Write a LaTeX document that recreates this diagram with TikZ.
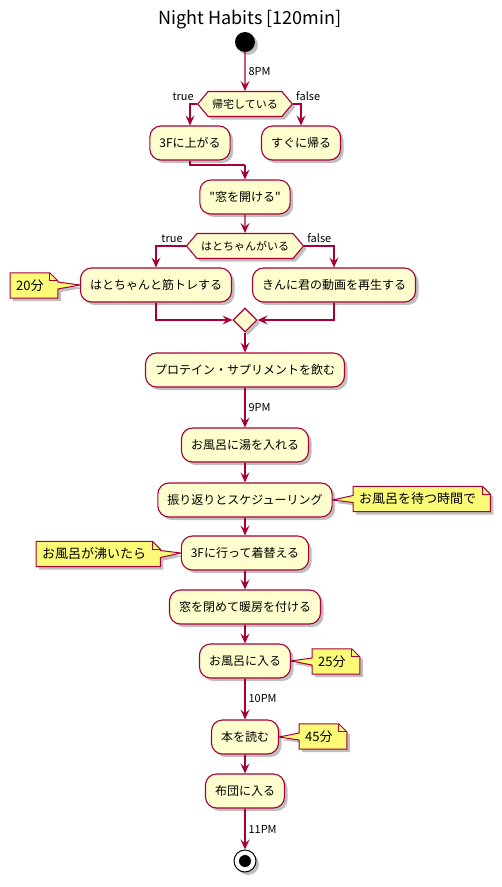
\documentclass[tikz,border=0pt]{standalone}
\usepackage{fontspec}
\setmainfont{Noto Sans CJK JP}[Ligatures=TeXOff]
\usetikzlibrary{arrows.meta,shapes.geometric,shapes.symbols,shadows,backgrounds}
\definecolor{umlred}{HTML}{A80036}
\definecolor{umlbox}{HTML}{FEFECE}
\definecolor{umlnote}{HTML}{FBFB77}
\tikzset{
  umlshadow/.style={drop shadow={opacity=0.25,fill=black,shadow xshift=3pt,shadow yshift=-3pt}},
  act/.style={draw=umlred, fill=umlbox, line width=1.1pt, rounded corners=11pt,
    minimum height=34pt, inner xsep=9.5pt, font=\fontsize{12}{14}\selectfont, umlshadow},
  cond/.style={signal, signal to=east and west, signal pointer angle=100, draw=umlred,
    fill=umlbox, line width=1.1pt, minimum height=25pt, inner xsep=4pt,
    font=\fontsize{11}{13}\selectfont, umlshadow},
  merge/.style={diamond, draw=umlred, fill=umlbox, line width=1.1pt, minimum size=24pt,
    inner sep=0pt, umlshadow},
  note/.style={anchor=west, minimum height=25pt, inner xsep=6pt, font=\fontsize{13}{15}\selectfont},
  notebg/.style={draw=umlred, fill=umlnote, line width=1pt, umlshadow},
  wire/.style={draw=umlred, line width=1.1pt},
  flow/.style={wire, -{Stealth[length=10pt,width=9pt,inset=4pt]}},
  lbl/.style={font=\fontsize{11}{13}\selectfont, inner sep=3pt},
}

\begin{document}
\begin{tikzpicture}[x=1pt,y=-1pt]
    \useasboundingbox (0,0) rectangle (502,887);
    \node[font=\fontsize{18}{20}\selectfont] (title) at (250,20) {Night Habits [120min]};
    \node[circle, fill=black, minimum size=20pt, inner sep=0pt, umlshadow] (start) at (245,42) {};

    % first decision
    \node[cond] (d1) at (245,104) {帰宅している};
    \node[lbl, anchor=south east] (t1) at (d1.west) {true};
    \node[lbl, anchor=south west] (f1) at (d1.east) {false};
    \node[act] (b1) at (190,143) {3Fに上がる};
    \node[act] (b2) at (301,143) {すぐに帰る};
    \coordinate (j1) at (245,165);
    \node[act] (b3) at (245,197) {"窓を開ける"};

    % second decision
    \node[cond] (d2) at (245,246) {はとちゃんがいる};
    \node[lbl, anchor=south east] (t2) at (d2.west) {true};
    \node[lbl, anchor=south west] (f2) at (d2.east) {false};
    \node[act] (b4) at (156,285) {はとちゃんと筋トレする};
    \node[act] (b5) at (334,285) {きんに君の動画を再生する};
    \node[merge] (mg) at (245,320) {};

    \node[act] (b6) at (245,370) {プロテイン・サプリメントを飲む};
    \node[act] (b7) at (245,445) {お風呂に湯を入れる};
    \node[act] (b8) at (245,500) {振り返りとスケジューリング};
    \node[act] (b9) at (245,553) {3Fに行って着替える};
    \node[act] (b10) at (245,607) {窓を閉めて暖房を付ける};
    \node[act] (b11) at (245,661) {お風呂に入る};
    \node[act] (b12) at (245,737) {本を読む};
    \node[act] (b13) at (245,791) {布団に入る};
    \node[circle, draw=black, fill=white, line width=1pt, minimum size=22pt, inner sep=0pt, umlshadow] (stop) at (245,861) {};
    \node[circle, fill=black, minimum size=12pt, inner sep=0pt] (stopdot) at (stop) {};

    % notes
    \node[note] (n1) at (10,285.5) {20分};
    \node[note] (n2) at (353,499) {お風呂を待つ時間で};
    \node[note] (n3) at (36,554) {お風呂が沸いたら};
    \node[note] (n4) at (312,661.5) {25分};
    \node[note] (n5) at (299,736.5) {45分};
    \begin{scope}[on background layer]
      \foreach \nn/\bx in {n1/b4, n3/b9} {
        \draw[notebg] (\nn.north west) -- (\nn.north east) -- ([xshift=8pt,yshift=-8pt]\nn.north east)
          -- ([xshift=8pt,yshift=3.5pt]\nn.east) -- (\bx.west) -- ([xshift=8pt,yshift=-3.5pt]\nn.east)
          -- ([xshift=8pt]\nn.south east) -- (\nn.south west) -- cycle;
        \draw[wire, line width=1pt] (\nn.north east) -- ([yshift=-8pt]\nn.north east) -- ([xshift=8pt,yshift=-8pt]\nn.north east);
      }
      \foreach \nn/\bx in {n2/b8, n4/b11, n5/b12} {
        \draw[notebg] (\nn.north west) -- (\nn.north east) -- ([xshift=8pt,yshift=-8pt]\nn.north east)
          -- ([xshift=8pt]\nn.south east) -- (\nn.south west) -- ([yshift=-3.5pt]\nn.west)
          -- (\bx.east) -- ([yshift=3.5pt]\nn.west) -- cycle;
        \draw[wire, line width=1pt] (\nn.north east) -- ([yshift=-8pt]\nn.north east) -- ([xshift=8pt,yshift=-8pt]\nn.north east);
      }
    \end{scope}

    % connectors
    \draw[flow] (start) -- node[lbl, right] (l8) {8PM} (d1);
    \draw[flow] (d1.west) -| (b1.north);
    \draw[flow] (d1.east) -| (b2.north);
    \draw[wire] (b1.south) |- (j1);
    \draw[flow] (j1) -- (b3);
    \draw[flow] (b3) -- (d2);
    \draw[flow] (d2.west) -| (b4.north);
    \draw[flow] (d2.east) -| (b5.north);
    \draw[flow] (b4.south) |- (mg.west);
    \draw[flow] (b5.south) |- (mg.east);
    \draw[flow] (mg) -- (b6);
    \draw[flow] (b6) -- node[lbl, right] (l9) {9PM} (b7);
    \draw[flow] (b7) -- (b8);
    \draw[flow] (b8) -- (b9);
    \draw[flow] (b9) -- (b10);
    \draw[flow] (b10) -- (b11);
    \draw[flow] (b11) -- node[lbl, right] (l10) {10PM} (b12);
    \draw[flow] (b12) -- (b13);
    \draw[flow] (b13) -- node[lbl, right] (l11) {11PM} (stop);
\end{tikzpicture}
\end{document}
